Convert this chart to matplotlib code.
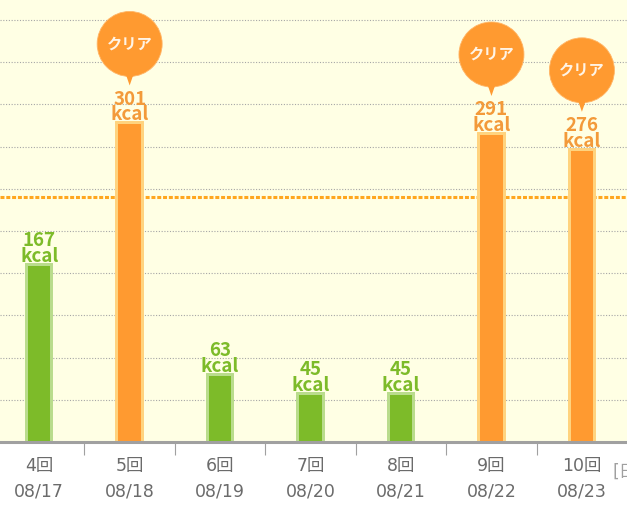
import matplotlib
matplotlib.use("Agg")
import matplotlib.pyplot as plt
import matplotlib.patheffects as pe
from matplotlib.patches import Circle, Polygon
from matplotlib.transforms import ScaledTranslation
import numpy as np

# ---- data ----
sessions = ['4回', '5回', '6回', '7回', '8回', '9回', '10回']
dates = ['08/17', '08/18', '08/19', '08/20', '08/21', '08/22', '08/23']
kcal = [167, 301, 63, 45, 45, 291, 276]
goal = 232
grid_values = [40, 80, 120, 160, 200, 240, 280, 320, 360, 400]
clear_text = 'クリア'
unit_text = 'kcal'
axis_unit = '[日付]'

W, H = 627, 507
XLIM = (-0.4334, 6.4986)
YLIM = (0, 418.96)
fig = plt.figure(figsize=(W / 100, H / 100), dpi=100)
fig.patch.set_facecolor('white')
ax = fig.add_axes([0, 65 / H, 1, 442 / H])
ax.set_facecolor('#FFFFE4')
ax.set_autoscale_on(False)
ax.set_xlim(*XLIM)
ax.set_ylim(*YLIM)

GREEN, GREEN_L = '#7DBB29', '#B9DC8C'
ORANGE, ORANGE_L = '#FF9A30', '#FFD37E'
LBL_GREEN, LBL_ORANGE = '#7DBB29', '#F39A3A'
LBL_FONT = ['Noto Sans CJK JP', 'DejaVu Sans']

# grid
for g in grid_values:
    ax.axhline(g, color='#A6A6A6', lw=0.8, ls=(0, (1, 1.5)), zorder=1)
# goal line
ax.axhline(goal, color='#FFA61E', lw=2.2, ls=(0, (1.3, 0.6)), zorder=1.5)

for i, v in enumerate(kcal):
    clear = v >= goal
    fc = ORANGE if clear else GREEN
    ec = ORANGE_L if clear else GREEN_L
    b = ax.bar(i, v, width=0.247, color=fc, zorder=3, linewidth=0)
    for p in b:
        p.set_path_effects([pe.Stroke(linewidth=4.3, foreground=ec), pe.Normal()])
    lc = LBL_ORANGE if clear else LBL_GREEN
    ax.annotate(unit_text, xy=(i, v), xytext=(0, 4), textcoords='offset pixels',
                ha='center', va='baseline', color=lc, fontsize=13.5,
                fontweight='bold', family=LBL_FONT, zorder=5)
    ax.annotate(str(v), xy=(i, v), xytext=(0, 19.5), textcoords='offset pixels',
                ha='center', va='baseline', color=lc, fontsize=13.5,
                fontweight='bold', family=LBL_FONT, zorder=5)
    if clear:
        tr = ScaledTranslation(i, v, ax.transData)
        circ = Circle((0, 80.5), 32.5, transform=tr, facecolor=ORANGE,
                      edgecolor='#FFB566', lw=0.6, zorder=6)
        ax.add_patch(circ)
        tail = Polygon([(-4.5, 52), (4.5, 52), (0, 39)], closed=True,
                       transform=tr, facecolor=ORANGE, edgecolor='none', zorder=6)
        ax.add_patch(tail)
        ax.annotate(clear_text, xy=(i, v), xytext=(0, 81), textcoords='offset pixels',
                    ha='center', va='center', color='#FFF4E6', fontsize=11,
                    fontweight='bold', family=LBL_FONT, zorder=7)

# axis labels
for i, (s, d) in enumerate(zip(sessions, dates)):
    ax.annotate(s, xy=(i, 0), xycoords='data', xytext=(0, -23.5), textcoords='offset pixels',
                ha='center', va='center', color='#6B6B6B', fontsize=12.5,
                family=['DejaVu Sans', 'Noto Sans CJK JP'], annotation_clip=False)
    ax.annotate(d, xy=(i, 0), xycoords='data', xytext=(0, -50), textcoords='offset pixels',
                ha='center', va='center', color='#6B6B6B', fontsize=12.5,
                family=['DejaVu Sans', 'Noto Sans CJK JP'], annotation_clip=False)

fig.text(612 / W, 1 - 472 / H, axis_unit, ha='left', va='center', color='#A0A0A0',
         fontsize=12.5, family=['DejaVu Sans', 'Noto Sans CJK JP'])

# spines & ticks
for s in ['top', 'right', 'left']:
    ax.spines[s].set_visible(False)
ax.spines['bottom'].set_color('#A0A0A0')
ax.spines['bottom'].set_linewidth(2.2)
ax.spines['bottom'].set_zorder(8)
ax.set_yticks([])
ax.set_xticks([])
ax.set_xticks(np.arange(0.5, len(kcal) - 0.5, 1.0), minor=True)
ax.tick_params(axis='x', which='minor', length=9.5, width=0.8, color='#A0A0A0',
               direction='out', labelbottom=False)
ax.set_xlim(*XLIM)
ax.set_ylim(*YLIM)

fig.savefig('out.png', dpi=100, facecolor='white')
